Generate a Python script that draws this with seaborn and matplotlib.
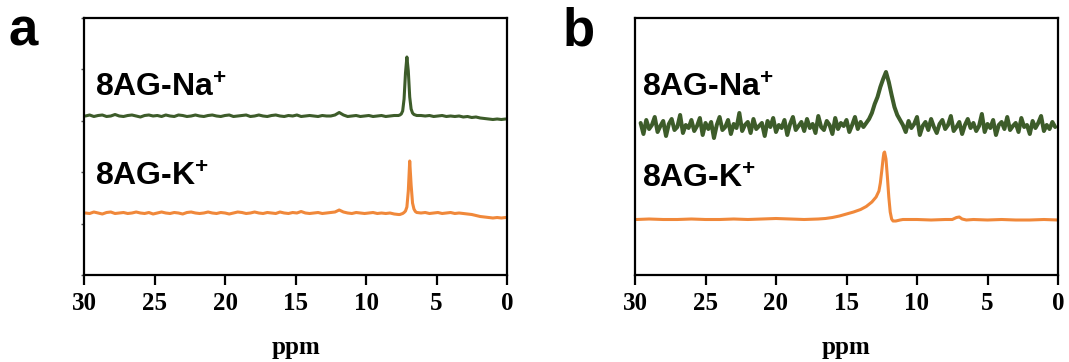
import matplotlib
matplotlib.use("Agg")
import matplotlib.pyplot as plt
import seaborn as sns

# ---------------- data (intensity in arbitrary units) ----------------
ppm_a = [29.9, 29.6, 29.3, 29.0, 28.7, 28.4, 28.1, 27.8, 27.5, 27.2,
         26.9, 26.6, 26.3, 26.0, 25.7, 25.4, 25.1, 24.8, 24.5, 24.2,
         23.9, 23.6, 23.3, 23.0, 22.7, 22.4, 22.1, 21.8, 21.5, 21.2,
         20.9, 20.6, 20.3, 20.0, 19.7, 19.4, 19.1, 18.8, 18.5, 18.2,
         17.9, 17.6, 17.3, 17.0, 16.7, 16.4, 16.1, 15.8, 15.5, 15.2,
         14.9, 14.6, 14.3, 14.0, 13.7, 13.4, 13.1, 12.8, 12.5, 12.2,
         11.9, 11.6, 11.3, 11.0, 10.7, 10.4, 10.1, 9.8, 9.5, 9.2,
         8.9, 8.6, 8.3, 8.0, 7.7,
         7.6, 7.5, 7.4, 7.3, 7.2, 7.1, 7.0, 6.9, 6.8, 6.7, 6.6, 6.5, 6.4,
         6.1, 5.8, 5.5, 5.2, 4.9, 4.6, 4.3, 4.0, 3.7, 3.4,
         3.1, 2.8, 2.5, 2.2, 1.9, 1.6, 1.3, 1.0, 0.7, 0.4, 0.1]

na_a = [159, 160, 158.5, 159.5, 160, 158.5, 159, 160.5, 159, 158.5,
        159.5, 160, 159, 158, 159.5, 160, 159, 159.5, 158.5, 160,
        159, 158.5, 160, 159.5, 158.5, 159, 160, 159, 158.5, 159.5,
        160, 159, 158.5, 159.5, 160, 158.5, 159, 159.5, 160, 158.5,
        159, 160, 159, 158.5, 159.5, 160, 159, 158.5, 159.5, 159,
        160, 158.5, 159, 159.5, 159, 158.5, 159.5, 159, 159, 160,
        162.5, 160, 158.5, 159, 159.5, 158.5, 159, 159.5, 158.5, 159,
        159.5, 158.5, 159, 159.5, 159.5,
        160, 161, 164, 176, 202, 218, 204, 178, 166, 162, 160.5, 160, 159.5,
        159.5, 159, 159.5, 158.5, 159, 159.5, 158.5, 159, 158.5, 159,
        158, 158.5, 157.5, 158, 157, 156.5, 156, 155.5, 156, 155.5, 156]

k_a = [62, 61.5, 63, 62, 61, 62.5, 63, 61.5, 62, 62.5,
       61.5, 62, 63, 62, 61.5, 62.5, 61, 62, 63, 62,
       61.5, 62.5, 62, 61, 62.5, 63, 62, 61.5, 62, 63,
       62, 61.5, 62.5, 62, 61, 62, 63, 62.5, 61.5, 62,
       63, 62, 61.5, 62.5, 62, 61.5, 63, 62, 61.5, 62.5,
       62, 63.5, 62, 61.5, 62, 62.5, 61.5, 62, 62.5, 63,
       65, 63, 62, 61.5, 62.5, 62, 61.5, 62, 62.5, 61.5,
       62, 61.5, 62, 61, 60.5,
       60.5, 61, 61.5, 62.5, 64, 68, 84, 114, 90, 72, 66, 63.5, 62.5,
       62, 62.5, 61.5, 62, 62.5, 61.5, 62, 62.5, 61.5, 62,
       61.5, 61, 60.5, 59.5, 58.5, 58, 57.5, 57, 57.5, 57, 57.5]

ppm_b_na = [29.6, 29.4, 29.2, 29.0, 28.8, 28.6, 28.4, 28.2, 28.0, 27.8,
            27.6, 27.4, 27.2, 27.0, 26.8, 26.6, 26.4, 26.2, 26.0, 25.8,
            25.6, 25.4, 25.2, 25.0, 24.8, 24.6, 24.4, 24.2, 24.0, 23.8,
            23.6, 23.4, 23.2, 23.0, 22.8, 22.6, 22.4, 22.2, 22.0, 21.8,
            21.6, 21.4, 21.2, 21.0, 20.8, 20.6, 20.4, 20.2, 20.0, 19.8,
            19.6, 19.4, 19.2, 19.0, 18.8, 18.6, 18.4, 18.2, 18.0, 17.8,
            17.6, 17.4, 17.2, 17.0, 16.8, 16.6, 16.4, 16.2, 16.0, 15.8,
            15.6, 15.4, 15.2, 15.0, 14.8, 14.6, 14.4, 14.2, 14.0, 13.8,
            13.6, 13.4, 13.2, 13.0, 12.8, 12.6, 12.4, 12.2, 12.0, 11.8,
            11.6, 11.4, 11.2, 11.0, 10.8, 10.6, 10.4, 10.2, 10.0, 9.8,
            9.6, 9.4, 9.2, 9.0, 8.8, 8.6, 8.4, 8.2, 8.0, 7.8,
            7.6, 7.4, 7.2, 7.0, 6.8, 6.6, 6.4, 6.2, 6.0, 5.8,
            5.6, 5.4, 5.2, 5.0, 4.8, 4.6, 4.4, 4.2, 4.0, 3.8,
            3.6, 3.4, 3.2, 3.0, 2.8, 2.6, 2.4, 2.2, 2.0, 1.8,
            1.6, 1.4, 1.2, 1.0, 0.8, 0.6, 0.4, 0.2]

na_b = [152, 141, 155, 146, 150, 158, 143, 149, 154, 139,
        151, 156, 145, 148, 160, 142, 150, 147, 155, 144,
        149, 157, 140, 152, 146, 153, 137, 150, 158, 145,
        148, 155, 141, 151, 147, 162, 144, 150, 153, 142,
        156, 146, 149, 152, 139, 154, 148, 157, 143, 150,
        147, 155, 140, 151, 158, 145, 149, 153, 144, 156,
        147, 151, 142, 159, 148, 145, 154, 150, 141, 157,
        146, 152, 149, 155, 143, 150, 158, 146, 153, 148,
        152, 156, 162, 171, 178, 188, 196, 203, 193, 180,
        168, 160, 155, 150, 143, 154, 147, 151, 158, 140,
        149, 153, 145, 156, 148, 142, 151, 155, 146, 150,
        159, 144, 148, 153, 141, 150, 156, 147, 152, 144,
        149, 161, 143, 151, 147, 155, 140, 150, 153, 146,
        158, 145, 149, 152, 143, 157, 148, 150, 141, 154,
        147, 152, 159, 144, 150, 146, 153, 148]

ppm_b_k = [29.9, 29.0, 28.0, 27.0, 26.0, 25.0, 24.0, 23.0, 22.0, 21.0,
           20.0, 19.0, 18.0, 17.0, 16.5, 16.0, 15.5, 15.0, 14.5, 14.0,
           13.6, 13.2, 12.9, 12.7, 12.6, 12.5, 12.4, 12.35, 12.3, 12.2,
           12.1, 12.0, 11.9, 11.8, 11.7, 11.5, 11.2, 11.0, 10.0, 9.0,
           8.0, 7.5, 7.2, 7.0, 6.8, 6.5, 6.0, 5.0, 4.0, 3.0,
           2.0, 1.0, 0.0]

k_b = [55.5, 56, 55.5, 55.5, 56, 55.5, 55.5, 56, 55.5, 56,
       56.5, 56, 55.5, 56, 56.5, 57.5, 59, 61, 63, 65.5,
       68.5, 73, 78, 84, 92, 104, 117, 122, 123, 116,
       98, 78, 63, 56, 54, 54, 55, 55.5, 55.5, 55,
       55.5, 55.5, 57.5, 58, 56, 55, 55.5, 55, 55.5, 55,
       55, 55.5, 55]

x_ticks = [30, 25, 20, 15, 10, 5, 0]
labels_na = "8AG-Na$^{+}$"
labels_k = "8AG-K$^{+}$"

GREEN = "#3d5c2a"
ORANGE = "#f0883a"

# ---------------- style ----------------
sns.set_theme(style="white")
plt.rcParams['font.family'] = ['Liberation Sans', 'DejaVu Sans']
plt.rcParams['mathtext.fontset'] = 'custom'
plt.rcParams['mathtext.rm'] = 'Liberation Sans:bold'
plt.rcParams['mathtext.bf'] = 'Liberation Sans:bold'
plt.rcParams['mathtext.it'] = 'Liberation Sans:bold'
plt.rcParams['text.color'] = 'black'
plt.rcParams['axes.labelcolor'] = 'black'
plt.rcParams['xtick.color'] = 'black'
plt.rcParams['ytick.color'] = 'black'

W, H = 1069, 362
fig = plt.figure(figsize=(W / 100, H / 100), dpi=100)


def rect(l, t, r, b):
    return [l / W, 1 - b / H, (r - l) / W, (b - t) / H]


ax_a = fig.add_axes(rect(84, 18, 507, 275))
ax_b = fig.add_axes(rect(635, 18, 1058, 275))

sns.lineplot(x=ppm_a, y=na_a, ax=ax_a, color=GREEN, linewidth=2.2, sort=False, estimator=None)
sns.lineplot(x=ppm_a, y=k_a, ax=ax_a, color=ORANGE, linewidth=2.2, sort=False, estimator=None)
sns.lineplot(x=ppm_b_na, y=na_b, ax=ax_b, color=GREEN, linewidth=2.9, sort=False, estimator=None)
sns.lineplot(x=ppm_b_k, y=k_b, ax=ax_b, color=ORANGE, linewidth=2.2, sort=False, estimator=None)

serif_bold = dict(family='Liberation Serif', weight='bold', size=18, color='black')

for ax in (ax_a, ax_b):
    ax.set_xlim(30, 0)
    ax.set_ylim(0, 257)
    ax.set_xticks(x_ticks)
    ax.set_xticklabels([str(t) for t in x_ticks], fontdict=serif_bold)
    ax.set_xlabel("ppm", fontdict=serif_bold, labelpad=15)
    ax.set_ylabel("")
    for s in ax.spines.values():
        s.set_visible(True)
        s.set_color("black")
        s.set_linewidth(1.6)
    ax.tick_params(axis='x', bottom=True, direction='out', length=7.5, width=1.6,
                   color='black', labelcolor='black', pad=5)
    ax.set_facecolor("white")
    ax.grid(False)

ax_a.set_yticks([0, 51.4, 102.8, 154.2, 205.6, 257])
ax_a.set_yticklabels([])
ax_a.tick_params(axis='y', left=True, direction='out', length=2.5, width=1.0, color='#555555')
ax_b.set_yticks([])

txt = dict(fontsize=23, fontweight='bold', color='black', va='baseline', ha='left')
ax_a.text(0.025, 0.695, labels_na, transform=ax_a.transAxes, **txt)
ax_a.text(0.025, 0.346, labels_k, transform=ax_a.transAxes, **txt)
ax_b.text(0.017, 0.695, labels_na, transform=ax_b.transAxes, **txt)
ax_b.text(0.017, 0.339, labels_k, transform=ax_b.transAxes, **txt)

fig.text(9 / W, 1 - 45 / H, "a", fontsize=38, fontweight='bold', color='black',
         va='baseline', ha='left')
fig.text(563 / W, 1 - 45 / H, "b", fontsize=38, fontweight='bold', color='black',
         va='baseline', ha='left')

fig.savefig("out.png", dpi=100, facecolor="white")
